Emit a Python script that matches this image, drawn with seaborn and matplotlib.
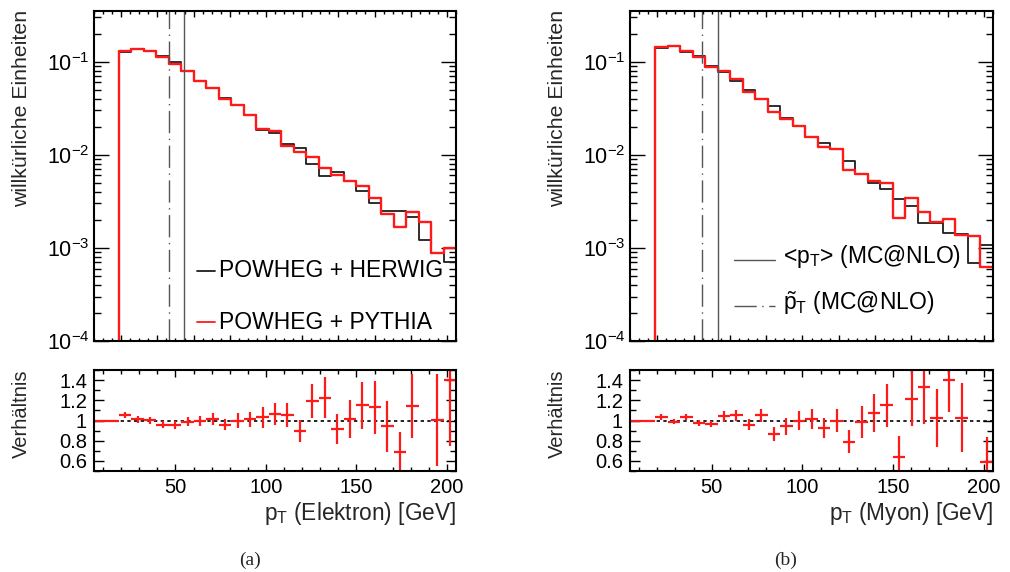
import numpy as np
import matplotlib
matplotlib.use("Agg")
import matplotlib.pyplot as plt
import seaborn as sns
from matplotlib.ticker import FixedLocator, FixedFormatter, MultipleLocator, NullFormatter, LogLocator

sns.set_theme(style="ticks")
plt.rcParams['font.family'] = ['Liberation Sans', 'DejaVu Sans']
plt.rcParams['mathtext.fontset'] = 'custom'
plt.rcParams['mathtext.rm'] = 'Liberation Sans'
plt.rcParams['mathtext.it'] = 'Liberation Sans:italic'
plt.rcParams['mathtext.bf'] = 'Liberation Sans:bold'
plt.rcParams['axes.edgecolor'] = 'black'
plt.rcParams['xtick.color'] = 'black'
plt.rcParams['ytick.color'] = 'black'
plt.rcParams['axes.linewidth'] = 1.5

# ---------------- data ----------------
bin_lo, bin_hi, n_bins = 5, 205, 29

el_herwig = [0, 0, 0.126, 0.137, 0.130, 0.116, 0.098, 0.079, 0.0625, 0.0517, 0.041, 0.0342,
             0.0267, 0.0184, 0.0173, 0.0130, 0.0119, 0.00787, 0.00594, 0.00656, 0.00521,
             0.00406, 0.00307, 0.00248, 0.00248, 0.00215, 0.00123, 0.00089, 0.000706]
el_pythia = [0, 0, 0.131, 0.138, 0.130, 0.111, 0.094, 0.079, 0.0615, 0.0517, 0.0394, 0.0342,
             0.0267, 0.0190, 0.0181, 0.0125, 0.0106, 0.0095, 0.00725, 0.00604, 0.00521,
             0.00464, 0.00347, 0.00234, 0.00168, 0.00244, 0.00191, 0.00089, 0.000985]
el_ratio = [1, 1, 1.053, 1.01, 1.003, 0.96, 0.96, 0.987, 0.993, 1.013, 0.96, 1.0, 1.013,
            1.03, 1.067, 1.057, 0.90, 1.197, 1.227, 0.917, 1.013, 1.15, 1.133, 0.943, 0.69,
            1.143, 1.55, 1.007, 1.40]
el_ratio_err = [0, 0, 0.033, 0.037, 0.033, 0.037, 0.04, 0.043, 0.047, 0.058, 0.055, 0.075,
                0.075, 0.1, 0.107, 0.12, 0.108, 0.168, 0.2, 0.15, 0.187, 0.23, 0.262, 0.25,
                0.2, 0.317, 0.45, 0.457, 0.65]

mu_herwig = [0, 0, 0.1415, 0.147, 0.128, 0.115, 0.0906, 0.0767, 0.0625, 0.0495, 0.0393, 0.0334,
             0.025, 0.0203, 0.0156, 0.01324, 0.0115, 0.0086, 0.00619, 0.00492, 0.00427,
             0.00331, 0.00283, 0.00186, 0.00186, 0.00145, 0.0014, 0.00069, 0.00107]
mu_pythia = [0, 0, 0.144, 0.148, 0.131, 0.111, 0.0869, 0.0794, 0.0651, 0.0475, 0.0397, 0.029,
             0.024, 0.0203, 0.0156, 0.0122, 0.0115, 0.00684, 0.00619, 0.00525, 0.00492,
             0.00212, 0.00345, 0.00244, 0.00191, 0.00203, 0.00137, 0.00135, 0.000625]
mu_ratio = [1, 1, 1.033, 0.99, 1.033, 0.977, 0.967, 1.04, 1.05, 0.96, 1.05, 0.867, 0.943,
            1.0, 1.017, 0.923, 1.0, 0.79, 0.983, 1.077, 1.15, 0.643, 1.217, 1.327, 1.023,
            1.4, 1.027, 1.96, 0.59]
mu_ratio_err = [0, 0, 0.03, 0.025, 0.03, 0.03, 0.03, 0.05, 0.05, 0.05, 0.065, 0.067, 0.083,
                0.09, 0.1, 0.1, 0.115, 0.113, 0.16, 0.187, 0.21, 0.2, 0.274, 0.36, 0.29,
                0.32, 0.34, 0.6, 0.25]

el_mean, el_median = 54.6, 46.5
mu_mean, mu_median = 53.3, 44.8

log_ticks = [1e-4, 1e-3, 1e-2, 1e-1]
log_labels = [r"10$^{-4}$", r"10$^{-3}$", r"10$^{-2}$", r"10$^{-1}$"]
ratio_ticks = [0.6, 0.8, 1.0, 1.2, 1.4]
ratio_labels = ["0.6", "0.8", "1", "1.2", "1.4"]

labels_hist = ["POWHEG + HERWIG", "POWHEG + PYTHIA"]
labels_lines = [r"<p$_{\rm T}$> (MC@NLO)", r"$\tilde{\rm p}_{\rm T}$ (MC@NLO)"]
ylab_top = "willkürliche Einheiten"
ylab_ratio = "Verhältnis"
xlab = [r"p$_{\rm T}$ (Elektron) [GeV]", r"p$_{\rm T}$ (Myon) [GeV]"]
captions = ["(a)", "(b)"]

# ---------------- figure ----------------
W, H = 1010, 572
fig = plt.figure(figsize=(W / 100, H / 100), dpi=100)

def fax(l, t, r, b):
    return fig.add_axes([l / W, 1 - b / H, (r - l) / W, (b - t) / H])

edges = np.linspace(bin_lo, bin_hi, n_bins + 1)
centers = 0.5 * (edges[:-1] + edges[1:])
half = 0.5 * (edges[1] - edges[0])

DASHDOT = (0, (16, 4, 1, 4))
RED = "#ff1a1a"

panels = [
    dict(l=94, r=456, herwig=el_herwig, pythia=el_pythia, ratio=el_ratio, err=el_ratio_err,
         mean=el_mean, median=el_median, xlab=xlab[0], cap=captions[0]),
    dict(l=630, r=993, herwig=mu_herwig, pythia=mu_pythia, ratio=mu_ratio, err=mu_ratio_err,
         mean=mu_mean, median=mu_median, xlab=xlab[1], cap=captions[1]),
]

for i, p in enumerate(panels):
    ax = fax(p['l'], 11, p['r'], 341)
    axr = fax(p['l'], 370, p['r'], 471)

    # histograms (steps)
    yh = list(p['herwig']) + [p['herwig'][-1]]
    yp = list(p['pythia']) + [p['pythia'][-1]]
    sns.lineplot(x=edges, y=yh, ax=ax, drawstyle='steps-post', color='#1e1e1e', lw=1.3,
                 estimator=None, sort=False)
    sns.lineplot(x=edges, y=yp, ax=ax, drawstyle='steps-post', color=RED, lw=1.7,
                 estimator=None, sort=False)
    ax.set_yscale('log')
    ax.set_xlim(bin_lo, bin_hi)
    ax.set_ylim(1e-4, 0.35)
    ax.axvline(p['mean'], color='#555555', lw=1.0)
    ax.axvline(p['median'], color='#555555', lw=1.0, ls=DASHDOT)

    ax.yaxis.set_major_locator(FixedLocator(log_ticks))
    ax.yaxis.set_major_formatter(FixedFormatter(log_labels))
    ax.yaxis.set_minor_locator(LogLocator(base=10, subs=np.arange(2, 10)))
    ax.yaxis.set_minor_formatter(NullFormatter())
    ax.xaxis.set_major_locator(MultipleLocator(20))
    ax.xaxis.set_minor_locator(MultipleLocator(5))
    ax.tick_params(axis='both', which='both', direction='in', top=True, right=True,
                   labelbottom=False, width=1)
    ax.tick_params(axis='y', which='major', length=10.5, labelsize=15.5, pad=3)
    ax.tick_params(axis='y', which='minor', length=5)
    ax.tick_params(axis='x', which='major', length=4.5)
    ax.tick_params(axis='x', which='minor', length=2.2)
    ax.set_xlabel("")
    ax.set_ylabel("")

    # legends
    if i == 0:
        for k, (lab, col, yy) in enumerate(zip(labels_hist, ['#1e1e1e', RED], [270.7, 322.3])):
            ya = (341 - yy) / 330
            ax.plot([0.2845, 0.3343], [ya, ya], transform=ax.transAxes, color=col, lw=1.3)
            ax.text(0.345, ya, lab, transform=ax.transAxes, fontsize=16.5, va='center',
                    ha='left', color='black')
    else:
        for k, (lab, ls, yy) in enumerate(zip(labels_lines, ['-', DASHDOT], [259.5, 306])):
            ya = (341 - yy) / 330
            ax.plot([0.2865, 0.3994], [ya, ya], transform=ax.transAxes, color='#555555',
                    lw=1.0, ls=ls)
            ax.text(0.4215, ya + 0.008, lab, transform=ax.transAxes, fontsize=16.5,
                    va='center', ha='left', color='black')

    # ratio panel
    r = np.array(p['ratio'], dtype=float)
    e = np.array(p['err'], dtype=float)
    show = (r >= 0.5) & (r <= 1.5)
    axr.axhline(1.0, color='black', lw=1.2, ls=(0, (2, 2)))
    axr.errorbar(centers[show], r[show], xerr=half, yerr=e[show], fmt='none',
                 ecolor=RED, elinewidth=1.6, capsize=0)
    axr.set_xlim(bin_lo, bin_hi)
    axr.set_ylim(0.5, 1.5)
    axr.yaxis.set_major_locator(FixedLocator(ratio_ticks))
    axr.yaxis.set_major_formatter(FixedFormatter(ratio_labels))
    axr.yaxis.set_minor_locator(MultipleLocator(0.1))
    axr.xaxis.set_major_locator(MultipleLocator(50))
    axr.xaxis.set_minor_locator(MultipleLocator(10))
    axr.tick_params(axis='both', which='both', direction='in', top=True, right=True, width=1)
    axr.tick_params(axis='both', which='major', labelsize=14.5, pad=5)
    axr.tick_params(axis='y', which='major', length=7)
    axr.tick_params(axis='y', which='minor', length=4)
    axr.tick_params(axis='x', which='major', length=5)
    axr.tick_params(axis='x', which='minor', length=3)

    off = p['l'] - 94
    fig.text((22 + off) / W, 1 - 10 / H, ylab_top, rotation=90, ha='center', va='top',
             fontsize=15.3)
    fig.text((21 + off) / W, 1 - 370 / H, ylab_ratio, rotation=90, ha='center', va='top',
             fontsize=14.5)
    fig.text(p['r'] / W, 1 - 520 / H, p['xlab'], ha='right', va='baseline', fontsize=16.3)
    fig.text((250 + off) / W, 1 - 560 / H, p['cap'], ha='center', va='center',
             fontsize=14, family=['Liberation Serif', 'DejaVu Serif'])

fig.savefig("out.png", dpi=100)
